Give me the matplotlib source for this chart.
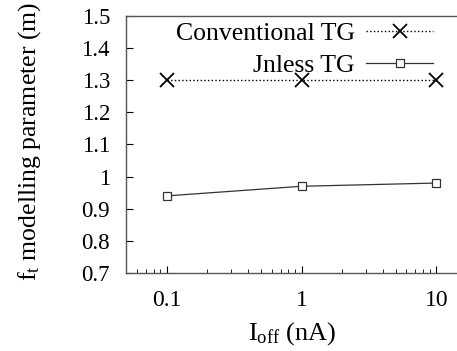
import matplotlib
matplotlib.use('Agg')
import matplotlib.pyplot as plt

# data
ioff = [0.1, 1, 10]
conventional_tg = [1.3, 1.3, 1.3]
jnless_tg = [0.94, 0.97, 0.98]
y_ticks = [0.7, 0.8, 0.9, 1.0, 1.1, 1.2, 1.3, 1.4, 1.5]
y_tick_labels = ['0.7', '0.8', '0.9', '1', '1.1', '1.2', '1.3', '1.4', '1.5']

plt.rcParams['font.family'] = ['Liberation Serif', 'DejaVu Serif']
plt.rcParams['mathtext.fontset'] = 'custom'
plt.rcParams['mathtext.rm'] = 'Liberation Serif'
plt.rcParams['mathtext.it'] = 'Liberation Serif'

fig = plt.figure(figsize=(4.57, 3.51), dpi=100)
W, H = 457, 351
ax = fig.add_axes([126 / W, 1 - 273 / H, (477 - 126) / W, (273 - 16) / H])

ax.plot(ioff, conventional_tg, linestyle=':', color='black', linewidth=1,
        marker='x', markersize=9.5, markeredgewidth=1.3, label='Conventional TG')
ax.plot(ioff, jnless_tg, linestyle='-', color='#333333', linewidth=0.9,
        marker='s', markersize=5.5, markerfacecolor='white', markeredgewidth=0.9,
        label='Jnless TG')

ax.set_xscale('log')
ax.set_xlim(0.05, 20)
ax.set_ylim(0.7, 1.5)
ax.set_xticks(ioff)
ax.set_xticklabels(['0.1', '1', '10'])
ax.set_yticks(y_ticks)
ax.set_yticklabels(y_tick_labels)

ax.tick_params(which='both', direction='in', top=False, right=False)
ax.tick_params(which='major', length=5)
ax.tick_params(which='minor', length=3)
ax.tick_params(axis='x', pad=12, labelsize=17)
ax.tick_params(axis='y', pad=11.5, labelsize=16.5)
for s in ax.spines.values():
    s.set_color('#555555')
    s.set_linewidth(1.0)

ax.set_xlabel(r'I$_{\rm off}$ (nA)', fontsize=19, labelpad=7, x=(292 - 126) / 351)
ax.set_ylabel(r'f$_{\rm t}$ modelling parameter (m)', fontsize=18.5, labelpad=28,
              y=(273 - 141) / 257)

ax.legend(loc='upper right', bbox_to_anchor=(433 / W, 1 - 22 / H),
          bbox_transform=fig.transFigure, frameon=False, markerfirst=False,
          fontsize=18.5, handlelength=2.6, borderaxespad=0.0, borderpad=0.0,
          labelspacing=0.35, handletextpad=0.45)

fig.savefig('out.png', dpi=100)
